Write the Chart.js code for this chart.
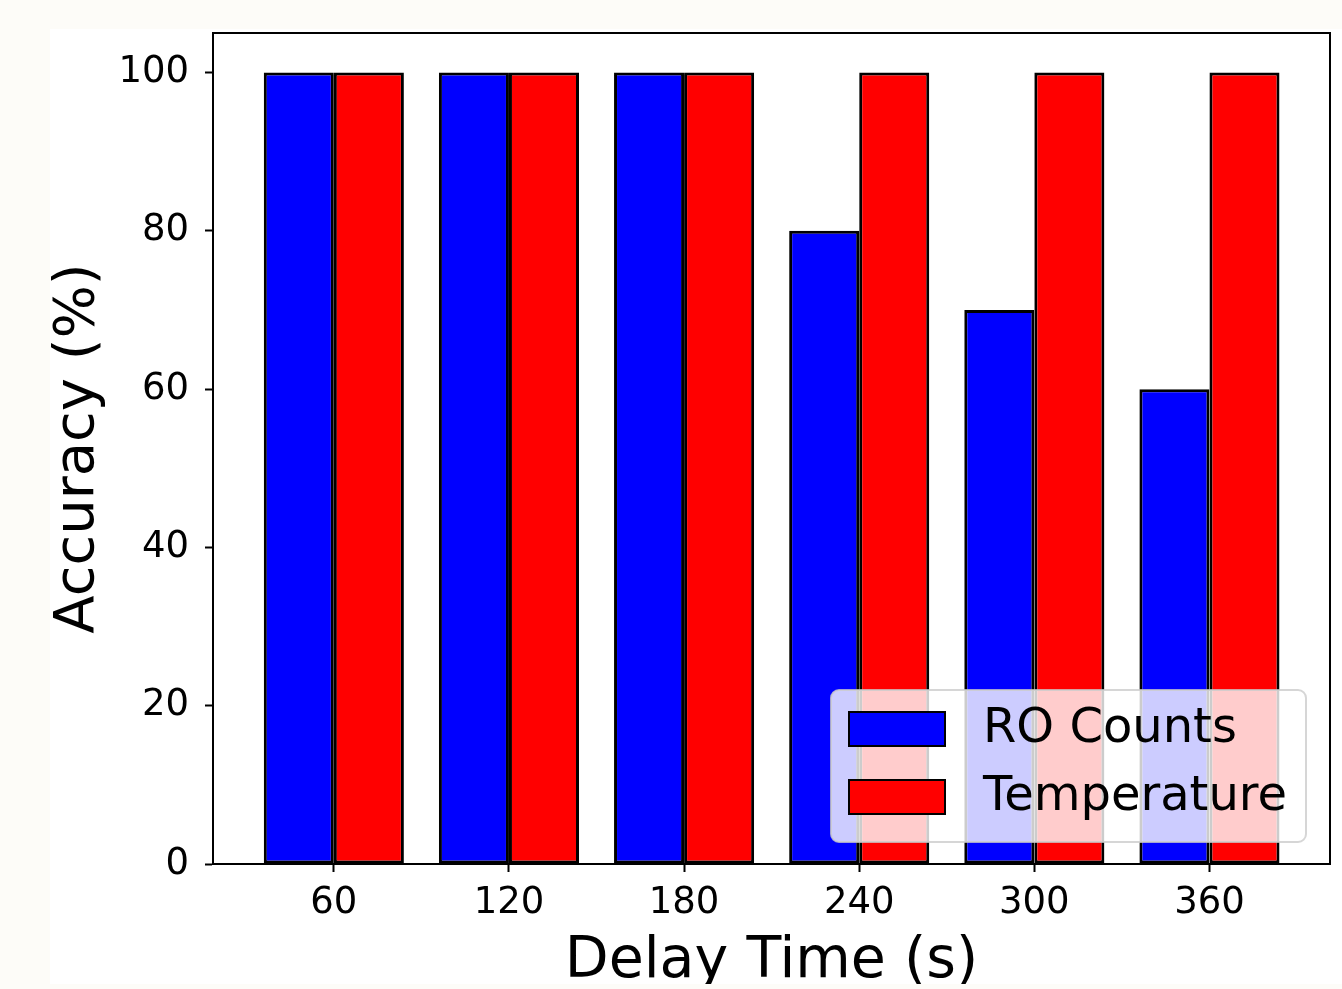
<!DOCTYPE html>
<html>
<head>
<meta charset="utf-8">
<script src="https://cdn.jsdelivr.net/npm/chart.js@4/dist/chart.umd.min.js"></script>
<style>
  html, body { margin: 0; padding: 0; background: #fdfcf8; }
  #wrap { position: absolute; left: 50px; top: 29px; width: 1292px; height: 955px; background: #ffffff; }
</style>
</head>
<body>
<div id="wrap"><canvas id="accChart" width="1292" height="955"></canvas></div>
<script>
// data
const delays = [60, 120, 180, 240, 300, 360];
const roCounts = [100, 100, 100, 80, 70, 60];
const temperature = [100, 100, 100, 100, 100, 100];
const yTicks = [0, 20, 40, 60, 80, 100];

const FONT = "'DejaVu Sans', sans-serif";

// black box all round the plot area (like matplotlib spines)
const frame = {
    id: "frame",
    afterDatasetsDraw(chart) {
        const a = chart.chartArea, ctx = chart.ctx;
        ctx.save();
        ctx.strokeStyle = "#000";
        ctx.lineWidth = 2;
        ctx.strokeRect(a.left, a.top, a.right - a.left, a.bottom - a.top);
        ctx.restore();
    }
};

// legend inside the lower right corner, semi-transparent
const insideLegend = {
    id: "insideLegend",
    afterDraw(chart) {
        const a = chart.chartArea, ctx = chart.ctx;
        const w = 475, h = 152;
        const x = a.right - 24 - w, y = a.bottom - 22 - h;
        ctx.save();
        ctx.beginPath();
        ctx.roundRect(x, y, w, h, 8);
        ctx.fillStyle = "rgba(255,255,255,0.8)";
        ctx.fill();
        ctx.lineWidth = 2;
        ctx.strokeStyle = "rgba(204,204,204,0.8)";
        ctx.stroke();

        chart.data.datasets.forEach((ds, i) => {
            const py = y + 22 + i * 68;
            ctx.fillStyle = ds.backgroundColor;
            ctx.fillRect(x + 18, py, 96, 34);
            ctx.strokeStyle = "#000";
            ctx.lineWidth = 2;
            ctx.strokeRect(x + 18, py, 96, 34);
            ctx.fillStyle = "#000";
            ctx.font = "48px " + FONT;
            ctx.textBaseline = "middle";
            ctx.fillText(ds.label, x + 152, py + 18);
        });
        ctx.restore();
    }
};

new Chart(document.getElementById("accChart"), {
    type: "bar",
    data: {
        datasets: [{
            label: "RO Counts",
            data: delays.map((d, i) => ({ x: d, y: roCounts[i] })),
            backgroundColor: "#0000ff",
            borderColor: "#000",
            borderWidth: 3,
            borderSkipped: false
        }, {
            label: "Temperature",
            data: delays.map((d, i) => ({ x: d, y: temperature[i] })),
            backgroundColor: "#ff0000",
            borderColor: "#000",
            borderWidth: 3,
            borderSkipped: false
        }]
    },
    options: {
        responsive: false,
        animation: false,
        categoryPercentage: 0.8,
        barPercentage: 1.0,
        layout: { padding: { left: 0, top: 4, right: 12, bottom: 0 } },
        plugins: {
            legend: { display: false },
            tooltip: { enabled: false }
        },
        scales: {
            x: {
                type: "linear",
                offset: false,
                min: 18.6,
                max: 401.3,
                afterBuildTicks: s => { s.ticks = delays.map(v => ({ value: v })); },
                afterFit: s => { s.height = 120; s.paddingLeft = 0; s.paddingRight = 0; },
                grid: { offset: false, drawOnChartArea: false, drawTicks: true, tickLength: 8, tickColor: "#000", tickWidth: 2 },
                border: { display: true, color: "#000", width: 2 },
                ticks: {
                    autoSkip: false,
                    maxRotation: 0,
                    padding: 9,
                    color: "#000",
                    font: { family: FONT, size: 37 }
                },
                title: {
                    display: true,
                    text: "Delay Time (s)",
                    color: "#000",
                    font: { family: FONT, size: 57, lineHeight: 1 },
                    padding: { top: 0, bottom: -7 }
                }
            },
            y: {
                min: 0,
                max: 105,
                afterBuildTicks: s => { s.ticks = yTicks.map(v => ({ value: v })); },
                afterFit: s => { s.width = 163; s.paddingTop = 0; s.paddingBottom = 0; },
                grid: { drawOnChartArea: false, drawTicks: true, tickLength: 8, tickColor: "#000", tickWidth: 2 },
                border: { display: true, color: "#000", width: 2 },
                ticks: {
                    padding: 16,
                    color: "#000",
                    font: { family: FONT, size: 37 }
                },
                title: {
                    display: true,
                    text: "Accuracy (%)",
                    color: "#000",
                    font: { family: FONT, size: 56, lineHeight: 1 },
                    padding: { top: 0, bottom: 0 }
                }
            }
        }
    },
    plugins: [frame, insideLegend]
});
</script>
</body>
</html>
